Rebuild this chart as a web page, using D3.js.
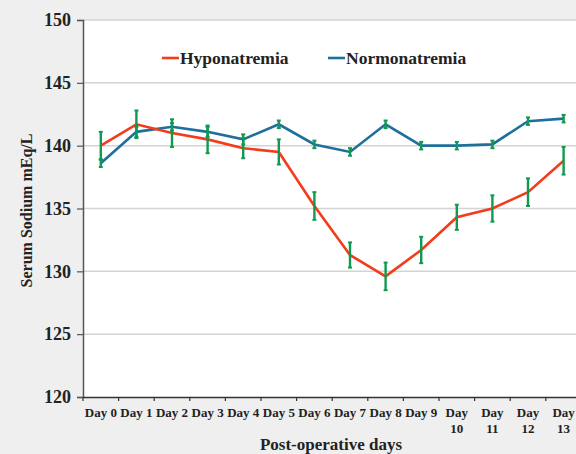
<!DOCTYPE html>
<html><head><meta charset="utf-8">
<script src="https://cdn.jsdelivr.net/npm/d3@7"></script>
<style>html,body{margin:0;padding:0;background:#efefef;overflow:hidden}
svg text{font-family:"Liberation Serif",serif !important;font-weight:bold;fill:#222}</style>
</head><body>
<svg id="c" width="576" height="454"></svg>
<script>
const categories = ["Day 0","Day 1","Day 2","Day 3","Day 4","Day 5","Day 6","Day 7","Day 8","Day 9","Day 10","Day 11","Day 12","Day 13"];
const hypoValues = [140.0,141.7,141.0,140.5,139.8,139.5,135.2,131.3,129.6,131.7,134.3,135.0,136.3,138.8];
const hypoErrors = [1.1,1.1,1.1,1.1,0.8,1.0,1.1,1.0,1.1,1.05,1.0,1.05,1.1,1.1];
const normoValues = [138.6,141.1,141.5,141.1,140.5,141.7,140.1,139.5,141.7,140.0,140.0,140.1,141.95,142.15];
const normoErrors = [0.3,0.4,0.3,0.4,0.4,0.3,0.3,0.3,0.3,0.3,0.3,0.3,0.3,0.3];
const yTicks = [120,125,130,135,140,145,150];
const seriesNames = ["Hyponatremia","Normonatremia"];
const yTitle = "Serum Sodium mEq/L";
const xTitle = "Post-operative days";

const svg = d3.select("#c");
const m = {left:83, right:581.4, top:20, bottom:397};
const x = d3.scaleBand().domain(categories).range([m.left, m.right]).padding(0);
const y = d3.scaleLinear().domain([120,150]).range([m.bottom, m.top]);
const cx = d => x(d) + x.bandwidth()/2;
const red = "#f23c1c", blue = "#1f6f9c", green = "#0f9a50";

svg.append("rect").attr("x",m.left).attr("y",m.top).attr("width",m.right-m.left).attr("height",m.bottom-m.top).attr("fill","#fff");

// gridlines
svg.append("g").selectAll("line").data(yTicks.filter(t=>t>120)).join("line")
  .attr("x1",m.left).attr("x2",m.right).attr("y1",d=>y(d)).attr("y2",d=>y(d))
  .attr("stroke","#d4d4d4").attr("stroke-width",1.5);

// y axis
const ya = svg.append("g").attr("transform",`translate(${m.left},0)`)
  .call(d3.axisLeft(y).tickValues(yTicks).tickSize(6).tickPadding(6).tickFormat(d3.format("d")));
ya.select(".domain").attr("stroke","#555").attr("stroke-width",1.5);
ya.selectAll(".tick line").attr("stroke","#555").attr("stroke-width",1.2);
ya.selectAll(".tick text").style("font-size","18px");

// x axis
const xa = svg.append("g").attr("transform",`translate(0,${m.bottom})`)
  .call(d3.axisBottom(x).tickSize(0).tickPadding(11));
xa.select(".domain").attr("stroke","#333").attr("stroke-width",1.5);
xa.selectAll(".tick text").style("font-size","13px")
  .each(function(d){
    const t = d3.select(this);
    const n = +d.split(" ")[1];
    if (n >= 10) {
      t.text(null);
      t.append("tspan").attr("x",0).attr("dy","0.71em").text("Day");
      t.append("tspan").attr("x",0).attr("dy","1.2em").text(String(n));
      t.attr("dy",null);
    }
  });
// boundary tick marks
svg.append("g").selectAll("line").data(categories).join("line")
  .attr("x1",d=>x(d)).attr("x2",d=>x(d)).attr("y1",m.bottom).attr("y2",m.bottom+4)
  .attr("stroke","#333").attr("stroke-width",1.2);

// lines
const line = vals => d3.line().x((d,i)=>cx(categories[i])).y(d=>y(d))(vals);
svg.append("path").attr("d",line(normoValues)).attr("fill","none").attr("stroke",blue).attr("stroke-width",2.6);
svg.append("path").attr("d",line(hypoValues)).attr("fill","none").attr("stroke",red).attr("stroke-width",2.6);

// error bars
function errBars(vals, errs){
  const g = svg.append("g").attr("stroke",green).attr("stroke-width",2.4);
  vals.forEach((v,i)=>{
    const xx = cx(categories[i]);
    g.append("line").attr("x1",xx).attr("x2",xx).attr("y1",y(v+errs[i])).attr("y2",y(v-errs[i]));
    [v+errs[i], v-errs[i]].forEach(e=>{
      g.append("line").attr("x1",xx-2).attr("x2",xx+2).attr("y1",y(e)).attr("y2",y(e)).attr("stroke-width",2);
    });
  });
}
errBars(normoValues, normoErrors);
errBars(hypoValues, hypoErrors);

// legend
const leg = [{name:seriesNames[0],c:red,x:162},{name:seriesNames[1],c:blue,x:328}];
leg.forEach(l=>{
  svg.append("line").attr("x1",l.x).attr("x2",l.x+17).attr("y1",58).attr("y2",58).attr("stroke",l.c).attr("stroke-width",2.6);
  svg.append("text").attr("x",l.x+18).attr("y",63.5).text(l.name).style("font-size","17.5px");
});

// titles
svg.append("text").attr("transform",`translate(32,${(m.top+m.bottom)/2+2}) rotate(-90)`).attr("text-anchor","middle")
  .text(yTitle).style("font-size","16px");
svg.append("text").attr("x",331).attr("y",449.5).attr("text-anchor","middle").text(xTitle).style("font-size","17px");
</script>
</body></html>
